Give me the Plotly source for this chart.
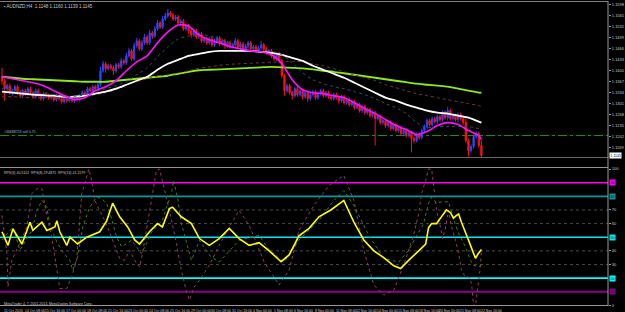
import plotly.graph_objects as go

# ---------------- price panel data (AUDNZD, H4) ----------------
first_open = 1.1382
closes = [1.1370,1.1346,1.1355,1.1334,1.1340,1.1352,1.1334,1.1325,1.1340,1.1331,
          1.1346,1.1334,1.1322,1.1340,1.1328,1.1316,1.1331,1.1325,1.1319,1.1322,
          1.1313,1.1325,1.1316,1.1307,1.1319,1.1310,1.1316,1.1310,1.1319,1.1313,
          1.1325,1.1334,1.1328,1.1346,1.1340,1.1352,1.1346,1.1358,1.1400,1.1421,
          1.1406,1.1415,1.1409,1.1400,1.1418,1.1412,1.1430,1.1424,1.1445,1.1460,
          1.1436,1.1475,1.1490,1.1466,1.1484,1.1502,1.1484,1.1514,1.1505,1.1526,
          1.1544,1.1532,1.1556,1.1565,1.1574,1.1568,1.1556,1.1562,1.1544,1.1550,
          1.1526,1.1535,1.1520,1.1508,1.1520,1.1502,1.1511,1.1490,1.1496,1.1484,
          1.1496,1.1478,1.1490,1.1499,1.1481,1.1490,1.1475,1.1484,1.1472,1.1478,
          1.1490,1.1472,1.1481,1.1466,1.1475,1.1484,1.1466,1.1472,1.1460,1.1469,
          1.1478,1.1466,1.1454,1.1460,1.1445,1.1436,1.1451,1.1430,1.1385,1.1340,
          1.1355,1.1334,1.1325,1.1346,1.1328,1.1340,1.1322,1.1334,1.1316,1.1328,
          1.1337,1.1319,1.1331,1.1340,1.1325,1.1334,1.1322,1.1316,1.1328,1.1319,
          1.1310,1.1322,1.1304,1.1313,1.1298,1.1307,1.1289,1.1298,1.1280,1.1292,
          1.1274,1.1283,1.1265,1.1274,1.1256,1.1262,1.1244,1.1250,1.1235,1.1244,
          1.1226,1.1238,1.1220,1.1229,1.1211,1.1220,1.1205,1.1214,1.1196,1.1190,
          1.1208,1.1199,1.1220,1.1232,1.1250,1.1238,1.1256,1.1247,1.1262,1.1253,
          1.1274,1.1259,1.1280,1.1256,1.1265,1.1253,1.1268,1.1256,1.1244,1.1190,
          1.1160,1.1172,1.1202,1.1211,1.1175,1.1145]
highs = [1.1409,1.1376,1.1361,1.1361,1.1346,1.1358,1.1358,1.1340,1.1346,1.1346,
         1.1352,1.1352,1.1340,1.1346,1.1346,1.1334,1.1337,1.1337,1.1331,1.1328,
         1.1328,1.1331,1.1331,1.1322,1.1325,1.1325,1.1322,1.1322,1.1325,1.1325,
         1.1331,1.1340,1.1340,1.1352,1.1352,1.1358,1.1358,1.1364,1.1412,1.1430,
         1.1427,1.1421,1.1421,1.1415,1.1424,1.1424,1.1439,1.1436,1.1454,1.1469,
         1.1466,1.1484,1.1499,1.1496,1.1493,1.1511,1.1508,1.1523,1.1520,1.1535,
         1.1553,1.1550,1.1565,1.1574,1.1586,1.1580,1.1574,1.1568,1.1568,1.1556,
         1.1556,1.1541,1.1541,1.1526,1.1526,1.1526,1.1517,1.1517,1.1502,1.1502,
         1.1502,1.1502,1.1496,1.1505,1.1505,1.1496,1.1496,1.1490,1.1490,1.1484,
         1.1499,1.1496,1.1487,1.1487,1.1481,1.1490,1.1490,1.1478,1.1478,1.1475,
         1.1490,1.1484,1.1472,1.1466,1.1466,1.1451,1.1457,1.1457,1.1436,1.1391,
         1.1361,1.1361,1.1340,1.1352,1.1352,1.1346,1.1346,1.1340,1.1340,1.1334,
         1.1343,1.1343,1.1337,1.1346,1.1346,1.1340,1.1340,1.1328,1.1334,1.1334,
         1.1325,1.1328,1.1328,1.1319,1.1319,1.1313,1.1313,1.1304,1.1304,1.1298,
         1.1298,1.1289,1.1289,1.1280,1.1280,1.1268,1.1268,1.1256,1.1256,1.1250,
         1.1250,1.1244,1.1244,1.1235,1.1235,1.1226,1.1226,1.1220,1.1220,1.1202,
         1.1214,1.1214,1.1226,1.1238,1.1256,1.1256,1.1262,1.1262,1.1268,1.1268,
         1.1280,1.1280,1.1292,1.1286,1.1271,1.1271,1.1274,1.1274,1.1262,1.1256,
         1.1196,1.1178,1.1208,1.1217,1.1217,1.1190]
lows = [1.1358,1.1310,1.1340,1.1328,1.1325,1.1334,1.1328,1.1319,1.1319,1.1325,
        1.1325,1.1328,1.1316,1.1316,1.1322,1.1310,1.1310,1.1319,1.1313,1.1313,
        1.1307,1.1307,1.1310,1.1301,1.1301,1.1304,1.1304,1.1304,1.1304,1.1307,
        1.1307,1.1319,1.1322,1.1322,1.1334,1.1334,1.1340,1.1340,1.1352,1.1394,
        1.1394,1.1400,1.1403,1.1388,1.1394,1.1406,1.1406,1.1418,1.1418,1.1439,
        1.1430,1.1430,1.1469,1.1460,1.1460,1.1478,1.1478,1.1478,1.1496,1.1499,
        1.1520,1.1526,1.1526,1.1550,1.1559,1.1562,1.1550,1.1550,1.1538,1.1538,
        1.1520,1.1520,1.1511,1.1499,1.1502,1.1496,1.1496,1.1484,1.1484,1.1478,
        1.1478,1.1472,1.1472,1.1484,1.1475,1.1475,1.1466,1.1469,1.1466,1.1466,
        1.1472,1.1466,1.1466,1.1460,1.1460,1.1469,1.1460,1.1460,1.1454,1.1454,
        1.1463,1.1460,1.1448,1.1448,1.1439,1.1430,1.1430,1.1424,1.1379,1.1325,
        1.1334,1.1328,1.1313,1.1319,1.1322,1.1322,1.1313,1.1316,1.1307,1.1310,
        1.1322,1.1313,1.1313,1.1325,1.1319,1.1319,1.1316,1.1310,1.1310,1.1313,
        1.1301,1.1304,1.1298,1.1298,1.1292,1.1292,1.1283,1.1283,1.1274,1.1274,
        1.1268,1.1268,1.1259,1.1259,1.1175,1.1250,1.1238,1.1238,1.1229,1.1229,
        1.1220,1.1220,1.1214,1.1214,1.1205,1.1205,1.1199,1.1199,1.1154,1.1181,
        1.1184,1.1193,1.1193,1.1214,1.1226,1.1232,1.1232,1.1241,1.1241,1.1247,
        1.1247,1.1253,1.1250,1.1250,1.1250,1.1247,1.1247,1.1250,1.1238,1.1184,
        1.1142,1.1154,1.1166,1.1196,1.1169,1.1139]
opens = [first_open] + closes[:-1]
bars = list(range(len(closes)))

# moving averages, read every 4 bars
ma_bars = list(range(0, 185, 4)) + [185]
ma_fast = [1.1382,1.1376,1.1370,1.1364,1.1355,1.1340,1.1325,1.1313,1.1319,1.1340,1.1352,1.1370,
           1.1400,1.1427,1.1445,1.1484,1.1517,1.1538,1.1535,1.1508,1.1493,1.1484,1.1472,1.1466,
           1.1460,1.1457,1.1448,1.1421,1.1373,1.1343,1.1334,1.1331,1.1325,1.1319,1.1304,1.1286,
           1.1271,1.1253,1.1235,1.1223,1.1208,1.1217,1.1235,1.1244,1.1238,1.1220,1.1205,1.1193]
ma_mid = [1.1346,1.1343,1.1340,1.1334,1.1331,1.1328,1.13235,1.1322,1.1328,1.1337,1.1346,1.1355,
          1.1367,1.1388,1.1409,1.1442,1.1472,1.1496,1.1505,1.1511,1.1505,1.1496,1.1484,1.1475,
          1.1469,1.14645,1.1460,1.1448,1.1424,1.1394,1.1373,1.1361,1.1352,1.1346,1.1337,1.1328,
          1.1316,1.1301,1.1289,1.1271,1.1244,1.1229,1.1232,1.1232,1.1232,1.1232,1.1226,1.1226]
ma_slow = [1.1337,1.1334,1.1331,1.1328,1.13265,1.1325,1.1322,1.1322,1.1325,1.1331,1.1337,1.1346,
           1.1358,1.1370,1.1382,1.1403,1.1421,1.1433,1.1445,1.1451,1.1457,1.1460,1.1460,1.1460,
           1.1460,1.1457,1.1454,1.1448,1.1439,1.1430,1.1415,1.1403,1.1391,1.1379,1.1364,1.1349,
           1.1334,1.1319,1.1310,1.1298,1.1289,1.1280,1.1274,1.1271,1.1265,1.1259,1.1247,1.1244]
ma_slow2 = [1.1322,1.1322,1.13205,1.1319,1.1319,1.1319,1.1319,1.1319,1.1322,1.1328,1.1334,1.1343,
            1.1358,1.1367,1.1376,1.13835,1.1388,1.1394,1.1400,1.14075,1.1412,1.14165,1.14195,1.1421,
            1.14225,1.1424,1.14255,1.1427,1.14285,1.1427,1.1421,1.1415,1.1406,1.1397,1.1388,1.1379,
            1.1370,1.1358,1.1349,1.1340,1.1331,1.1325,1.1319,1.1313,1.1307,1.1301,1.1295,1.1292]
ma_long = [1.1382,1.1379,1.1376,1.13745,1.1373,1.13715,1.1370,1.13685,1.1367,1.1367,1.1367,1.1370,
           1.1373,1.1376,1.1379,1.1382,1.1385,1.1391,1.1397,1.14015,1.1403,1.14045,1.1406,1.14075,
           1.1409,1.14105,1.1412,1.14105,1.1409,1.14075,1.14045,1.1400,1.1397,1.13925,1.1388,1.13835,
           1.1379,1.13745,1.1370,1.13655,1.1361,1.1358,1.1355,1.1352,1.1346,1.1340,1.1334,1.1334]

order_price = 1.1205
order_label = "#46688713 sell 0.75"
title_text = "AUDNZD,H4  1.1148 1.1160 1.1139 1.1145"
price_ticks = [1.1598,1.1565,1.1532,1.1499,1.1466,1.1433,1.1400,1.1367,1.1334,1.1301,1.1268,1.1235,1.1202,1.1169]

# ---------------- oscillator panel data ----------------
yel_x = [0,2.3,4.2,7.7,10.8,11.9,15.4,17.3,20.4,21.2,22.3,25,26.2,29.2,32.7,37.7,40.4,42.7,45.4,48.5,
         51.2,53.1,56.9,60,61.9,64.6,65.8,69.2,73.1,76.2,80,83.8,87.7,91.5,95.4,99.2,103.1,107.7,110.8,
         114.6,118.5,122.3,126.9,131.9,135.8,139.6,143.5,147.3,151.2,153.8,156.9,160.8,161.9,163.5,164.6,
         165.8,167.7,169.2,170.4,171.5,173.1,174.2,175.4,176.2,177.3,178.8,180,181.2,182.7,183.8,185]
yel_v = [54,44,56,45,61,55,61,55,57.5,62,54,44,50,45,50,54,62,75,65,57.5,
         48,45,54,60,57.5,71,72,65,60,49,44,49,56.5,49,44,46,40,32,37,
         51,56.5,65,70,77,61,48,40,35,29,27,33,39.6,42,45,57,
         60,60,64,67,70,68,64,66,67,61,53,48,42,34.5,38,41]
grn_x = [0,4.2,6.9,11.5,13.5,15.4,17.3,18.5,21.2,23.5,26.2,27.3,29.2,31.2,33.8,36.5,38.5,40.4,42.3,44.2,
         46.2,48.1,50,51.9,53.8,55.8,57.7,59.6,61.9,63.5,65.4,66.2,67.7,69.2,71.2,73.1,74.2,76.2,80,83.8,
         91.5,99.2,103.1,108.8,114.6,122.3,128.1,131.9,135.8,141.5,147.3,153.1,156.9,160.8,162.7,164.6,
         165.8,167.7,169.6,172.3,173.5,175,176.2,178.8,180.8,181.9,183.8,185]
grn_v = [48,57.5,40.5,55,69.7,77,72,58.7,46.5,39,33,25.8,35.6,57.5,72,79.4,78.3,74.6,63.6,50.2,
         42.9,45.4,47.8,42.9,38,45.4,53.8,57.5,62.4,72.1,81.9,91.7,79.4,60,45.4,33.1,38,47.8,36.8,31.7,
         47.8,51.4,40.5,31.7,47.8,62.4,77,84.3,73.4,51.4,34.6,31.7,40.5,53.8,60,75,
         79.4,75,76,76,67.5,59,53,43,33,29.5,28.3,29.5]
mar_x = [0,1.9,2.3,3.8,6.9,9.6,11.5,13.5,15.4,17.3,19.2,21.2,22.3,25,26.9,28.8,30.8,32.3,33.5,34.6,
         35.8,37.7,39.6,41.5,43.5,45.4,47.3,49.2,51.2,53.1,54.2,56.2,58.1,59.6,60.8,61.9,64.6,67.3,69.2,
         71.2,72.3,74.2,76.2,80,85.8,91.5,95.4,101.2,106.9,110.8,114.6,120.4,126.2,131.9,135.8,139.6,
         143.5,147.3,151.2,155,158.8,160.8,161.9,163.5,164.6,165.8,166.5,167.7,169.2,170,171.2,172.3,
         173.5,175,176.2,177.3,178.8,180,181.2,181.9,182.7,183.5,184.6,185]
mar_v = [66,38,13.6,33,45.6,57.5,82,85.6,85.6,66,50.2,25.8,12.4,12.4,21,33,82,91.7,100,91.7,
         77,69.7,62.4,53.8,44.1,34.4,33,40.5,33,28.2,38,60,82,99,100,91.7,69.7,45.4,25.8,
         10,3.9,13.6,18.5,29.5,51.4,69.7,58.7,31.7,14.9,25.8,55,73.4,88,95.3,77,40.5,
         14.9,7.5,11.2,29.5,51.4,67.3,82,91.7,100,100,86.8,69.7,57.5,49,57.5,69.7,
         57.5,47.8,38,25.8,20.9,20.9,16.1,1.5,-1,11.2,28.2,40.5]
osc_title = "RPS(3) 40.5102  RPS(8) 29.4875  RPS(14) 41.1579"
osc_plain_ticks = [100, 70, 60, 40, 30, 0]
osc_levels = [90, 80, 70, 60, 50, 40, 30, 20, 10]
osc_level_colors = ["#ff00ff", "#0a9a9a", "#4a4a4a", "#4a4a4a", "#00e8f0", "#4a4a4a", "#4a4a4a", "#00ffff", "#8b008b"]
osc_level_widths = [1.6, 1.8, 1, 1, 1.4, 1, 1, 1.8, 2]
osc_level_dash = ["solid", "solid", "dot", "dot", "solid", "dot", "dot", "solid", "solid"]
osc_boxed = [90, 80, 50, 20, 10]

date_bars = list(range(0, 185, 8))
date_labels = ["11 Oct 2013", "14 Oct 08:00", "15 Oct 16:00", "17 Oct 00:00", "18 Oct 08:00",
               "21 Oct 16:00", "23 Oct 00:00", "24 Oct 08:00", "25 Oct 16:00", "29 Oct 00:00",
               "30 Oct 08:00", "31 Oct 16:00", "4 Nov 00:00", "5 Nov 08:00", "6 Nov 16:00",
               "8 Nov 00:00", "11 Nov 08:00", "12 Nov 16:00", "14 Nov 00:00", "15 Nov 08:00",
               "18 Nov 16:00", "20 Nov 00:00", "21 Nov 08:00", "22 Nov 16:00"]
copyright_text = "MetaTrader 4, © 2001-2013, MetaQuotes Software Corp."

# ---------------- figure ----------------
PLOT_H = 306.0
FONT = "Liberation Sans"
TXT = "#c8c8c8"

fig = go.Figure()
fig.add_trace(go.Candlestick(
    x=bars, open=opens, high=highs, low=lows, close=closes,
    increasing=dict(line=dict(color="#2a48ff", width=1), fillcolor="#2a48ff"),
    decreasing=dict(line=dict(color="#ff1010", width=1), fillcolor="#ff1010"),
    whiskerwidth=0, yaxis="y", hoverinfo="skip"))

def ma(y, color, width, dash="solid"):
    fig.add_trace(go.Scatter(x=ma_bars, y=y, mode="lines", yaxis="y", hoverinfo="skip",
                             line=dict(color=color, width=width, dash=dash, shape="spline", smoothing=0.6)))

ma(ma_long, "#8ee81e", 1.8)
ma(ma_slow2, "#7a3838", 1, "dot")
ma(ma_slow, "#ffffff", 1.8)
ma(ma_mid, "#34506e", 1, "dot")
ma(ma_fast, "#ff10ff", 1.6)

fig.add_trace(go.Scatter(x=mar_x, y=mar_v, mode="lines", yaxis="y2", hoverinfo="skip",
                         line=dict(color="#8e3f62", width=1, dash="dot")))
fig.add_trace(go.Scatter(x=grn_x, y=grn_v, mode="lines", yaxis="y2", hoverinfo="skip",
                         line=dict(color="#3f7f17", width=1, dash="dot")))
fig.add_trace(go.Scatter(x=yel_x, y=yel_v, mode="lines", yaxis="y2", hoverinfo="skip",
                         line=dict(color="#ffff00", width=1.6)))

shapes = []
for lv, c, w, d in zip(osc_levels, osc_level_colors, osc_level_widths, osc_level_dash):
    shapes.append(dict(type="line", xref="paper", yref="y2", x0=0, x1=1, y0=lv, y1=lv,
                       line=dict(color=c, width=w, dash=d), layer="below"))
shapes.append(dict(type="line", xref="paper", yref="y", x0=0, x1=1, y0=order_price, y1=order_price,
                   line=dict(color="#1f8f1f", width=1, dash="dashdot"), layer="below"))
# panel borders
for py, col in [(0.5, "#808080"), (157, "#6a6a6a"), (167, "#9a9a9a"), (305.5, "#9a9a9a")]:
    shapes.append(dict(type="line", xref="paper", yref="paper", x0=0, x1=1,
                       y0=1 - py / PLOT_H, y1=1 - py / PLOT_H, line=dict(color=col, width=1)))
shapes.append(dict(type="line", xref="paper", yref="paper", x0=1, x1=1, y0=0, y1=1,
                   line=dict(color="#9a9a9a", width=1)))

ann = []
ann.append(dict(text="▪ " + title_text, xref="paper", yref="paper", x=0.004, y=1 - 1 / PLOT_H,
                xanchor="left", yanchor="top", showarrow=False, font=dict(size=4.5, color=TXT, family=FONT)))
ann.append(dict(text=order_label, xref="paper", yref="y", x=0.003, y=order_price, xanchor="left",
                yanchor="bottom", showarrow=False, font=dict(size=3.5, color="#b0b0b0", family=FONT)))
ann.append(dict(text=osc_title, xref="paper", yref="paper", x=0.004, y=1 - 169 / PLOT_H,
                xanchor="left", yanchor="top", showarrow=False, font=dict(size=3.5, color=TXT, family=FONT)))
ann.append(dict(text=copyright_text, xref="paper", yref="paper", x=0.004, y=1 - 300 / PLOT_H,
                xanchor="left", yanchor="top", showarrow=False, font=dict(size=3.5, color=TXT, family=FONT)))
for b, lab in zip(date_bars, date_labels):
    ann.append(dict(text=lab, xref="x", yref="paper", x=b, y=-1.2 / PLOT_H, xanchor="left",
                    yanchor="top", showarrow=False, font=dict(size=3.5, color=TXT, family=FONT)))
for lv in osc_boxed:
    c = osc_level_colors[osc_levels.index(lv)]
    ann.append(dict(text=str(lv), xref="paper", yref="y2", x=1.002, y=lv, xanchor="left", yanchor="middle",
                    showarrow=False, bgcolor=c, borderpad=0.5,
                    font=dict(size=3.5, color="#000000", family=FONT)))
ann.append(dict(text=f"{closes[-1]:.4f}", xref="paper", yref="y", x=1.002, y=closes[-1], xanchor="left",
                yanchor="middle", showarrow=False, bgcolor="#ffffff", borderpad=0.5,
                font=dict(size=3.5, color="#000000", family=FONT)))

fig.update_layout(
    width=625, height=312, margin=dict(l=0, r=15, t=0, b=6),
    paper_bgcolor="black", plot_bgcolor="black", showlegend=False,
    font=dict(family=FONT, color=TXT, size=4),
    xaxis=dict(range=[-0.77, 233.85], anchor="y2", showgrid=False, zeroline=False,
               showticklabels=False, showline=False, rangeslider=dict(visible=False), fixedrange=True),
    yaxis=dict(domain=[1 - 157 / PLOT_H, 1], range=[1.1139, 1.1610], side="right", anchor="x",
               tickvals=price_ticks, ticktext=[f"{v:.4f}" for v in price_ticks],
               tickfont=dict(size=4, color=TXT), showgrid=False, zeroline=False,
               ticks="outside", ticklen=2, tickcolor="#9a9a9a", showline=False, fixedrange=True),
    yaxis2=dict(domain=[0, 1 - 167 / PLOT_H], range=[-0.5, 101.2], side="right", anchor="x",
                tickvals=osc_plain_ticks, ticktext=[str(v) for v in osc_plain_ticks],
                tickfont=dict(size=4, color=TXT), showgrid=False, zeroline=False,
                ticks="outside", ticklen=2, tickcolor="#9a9a9a", showline=False, fixedrange=True),
    shapes=shapes, annotations=ann,
)

fig.write_html("out.html", config={"displayModeBar": False})
